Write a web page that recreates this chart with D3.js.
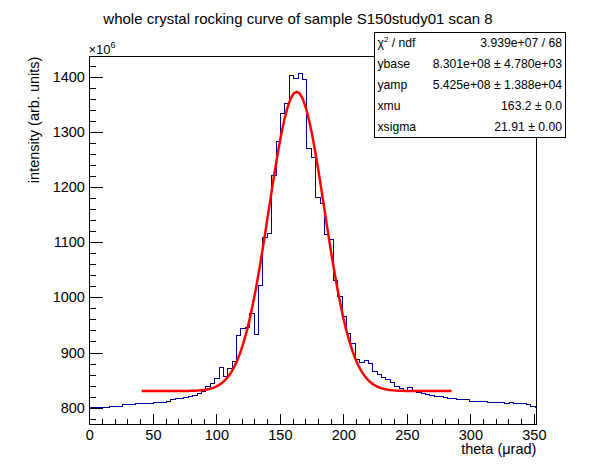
<!DOCTYPE html>
<html>
<head>
<meta charset="utf-8">
<script src="https://cdn.jsdelivr.net/npm/d3@7"></script>
<style>
  html, body { margin: 0; padding: 0; background: #fff; }
  svg { display: block; font-family: "Liberation Sans", Arial, Helvetica, sans-serif; }
</style>
</head>
<body>
<div class="chart"></div>
<script>
"use strict";

// Histogram contents (x10^6), bin k is centred on k * binWidth
const binWidth = 3.46;
const binValues = [
  800, 800, 801, 801, 801, 802, 803, 803, 805, 805,
  805, 807, 807, 807, 808, 809, 809, 810, 812, 814,
  816, 817, 819, 820, 822, 825, 830, 838, 843, 853,
  873, 857, 871, 883, 930, 943, 945, 970, 933, 1022,
  1109, 1116, 1221, 1283, 1334, 1352, 1402, 1397, 1405, 1395,
  1270, 1253, 1181, 1170, 1114, 1105, 1030, 1002, 966, 935,
  917, 888, 882, 886, 880, 866, 861, 855, 851, 845,
  839, 834, 832, 836, 830, 828, 826, 824, 822, 820,
  820, 819, 817, 816, 815, 815, 814, 812, 812, 812,
  811, 810, 810, 810, 809, 808, 810, 808, 808, 807,
  805, 803, 800
];

const xDomain = [0, 352];
const yDomain = [769, 1436.4];
const xTicks = [0, 50, 100, 150, 200, 250, 300, 350];
const yTicks = [800, 900, 1000, 1100, 1200, 1300, 1400];

// Fit result as printed in the stats box (gaussian on a flat base)
const fitBase = 830.1;   // ybase / 1e6
const fitAmp = 542.5;    // yamp / 1e6
const fitMu = 163.2;
const fitSigma = 21.91;
const fitRange = [41.2, 285.2];

const statLabels = ["ndf", "ybase", "yamp", "xmu", "xsigma"];
const statValues = [
  "3.939e+07 / 68",
  "8.301e+08 \u00b1 4.780e+03",
  "5.425e+08 \u00b1 1.388e+04",
  "163.2 \u00b1 0.0",
  "21.91 \u00b1 0.00"
];

const fontFamily = "'Liberation Sans', Arial, Helvetica, sans-serif";
const width = 596;
const height = 472;
const frame = { left: 89.4, right: 536.4, top: 56.6, bottom: 424.8 };
const innerWidth = frame.right - frame.left;
const innerHeight = frame.bottom - frame.top;

const svg = d3.select(".chart")
  .append("svg")
    .attr("width", width)
    .attr("height", height);

svg.append("rect")
  .attr("width", width)
  .attr("height", height)
  .attr("fill", "#fff");

svg.append("defs")
  .append("clipPath")
    .attr("id", "frame-clip")
  .append("rect")
    .attr("width", innerWidth)
    .attr("height", innerHeight);

const innerChart = svg.append("g")
  .attr("transform", `translate(${frame.left}, ${frame.top})`);

const xScale = d3.scaleLinear()
  .domain(xDomain)
  .range([0, innerWidth]);

const yScale = d3.scaleLinear()
  .domain(yDomain)
  .range([innerHeight, 0]);

// Axes, ticks pointing into the frame like ROOT does
const xAxis = d3.axisBottom(xScale)
  .tickValues(xTicks)
  .tickFormat(d3.format("d"))
  .tickSize(-11)
  .tickSizeOuter(0)
  .tickPadding(5);

const xMinor = d3.axisBottom(xScale)
  .tickValues(d3.range(0, 352, 10).filter(v => v % 50 !== 0))
  .tickSize(-5.5)
  .tickSizeOuter(0);

const yAxis = d3.axisLeft(yScale)
  .tickValues(yTicks)
  .tickFormat(d3.format("d"))
  .tickSize(-13.4)
  .tickSizeOuter(0)
  .tickPadding(4.5);

const yMinor = d3.axisLeft(yScale)
  .tickValues(d3.range(780, 1421, 20).filter(v => v % 100 !== 0))
  .tickSize(-6.7)
  .tickSizeOuter(0);

innerChart.append("g")
  .attr("class", "minor")
  .attr("transform", `translate(0, ${innerHeight})`)
  .call(xMinor);

innerChart.append("g")
  .attr("class", "minor")
  .call(yMinor);

innerChart.selectAll(".minor text").remove();

innerChart.append("g")
  .attr("class", "axis-x")
  .attr("transform", `translate(0, ${innerHeight})`)
  .call(xAxis);

innerChart.append("g")
  .attr("class", "axis-y")
  .call(yAxis);

innerChart.selectAll(".domain").remove();
innerChart.selectAll("g.minor, g.axis-x, g.axis-y")
  .attr("font-family", fontFamily)
  .attr("font-size", 14.5);
innerChart.selectAll(".tick line")
  .attr("stroke", "#000")
  .attr("shape-rendering", "crispEdges");
innerChart.selectAll(".tick text")
  .attr("fill", "#000");

// Histogram as a step line through the bin low edges
const edges = binValues.map((v, k) => ({ x: (k - 0.5) * binWidth, y: v }));
edges.push({ x: (binValues.length - 0.5) * binWidth, y: binValues[binValues.length - 1] });

const stepLine = d3.line()
  .x(d => xScale(d.x))
  .y(d => yScale(d.y))
  .curve(d3.curveStepAfter);

const plot = innerChart.append("g")
  .attr("clip-path", "url(#frame-clip)");

plot.append("path")
  .attr("d", stepLine(edges))
  .attr("fill", "none")
  .attr("stroke", "#000099")
  .attr("stroke-width", 1)
  .attr("shape-rendering", "crispEdges");

// Fit function evaluated from the printed parameters
const fitPoints = d3.range(0, 101).map(i => {
  const x = fitRange[0] + (fitRange[1] - fitRange[0]) * i / 100;
  const z = (x - fitMu) / fitSigma;
  return { x, y: fitBase + fitAmp * Math.exp(-0.5 * z * z) };
});

const fitLine = d3.line()
  .x(d => xScale(d.x))
  .y(d => yScale(d.y));

plot.append("path")
  .attr("d", fitLine(fitPoints))
  .attr("fill", "none")
  .attr("stroke", "#ff0000")
  .attr("stroke-width", 2.5)
  .attr("stroke-linejoin", "round");

// Frame
innerChart.append("rect")
  .attr("width", innerWidth)
  .attr("height", innerHeight)
  .attr("fill", "none")
  .attr("stroke", "#000")
  .attr("shape-rendering", "crispEdges");

// Exponent label of the y axis
const expLabel = svg.append("text")
  .attr("x", 88.5)
  .attr("y", 54)
  .attr("fill", "#000")
  .style("font-size", "13px")
  .text("\u00d710");
expLabel.append("tspan")
  .attr("dy", -6)
  .style("font-size", "9px")
  .text("6");

// Axis titles
svg.append("text")
  .attr("x", frame.right)
  .attr("y", 454)
  .attr("text-anchor", "end")
  .style("font-size", "14.5px")
  .text("theta (\u03bcrad)");

svg.append("text")
  .attr("transform", `translate(38.5, ${frame.top}) rotate(-90)`)
  .attr("text-anchor", "end")
  .style("font-size", "14.5px")
  .text("intensity (arb. units)");

// Title
svg.append("text")
  .attr("x", width / 2)
  .attr("y", 24)
  .attr("text-anchor", "middle")
  .style("font-size", "15px")
  .text("whole crystal rocking curve of sample S150study01 scan 8");

// Stats box
const box = { x: 374.5, y: 32, w: 191, h: 105.5 };
const rowHeight = box.h / statLabels.length;

svg.append("rect")
  .attr("x", box.x)
  .attr("y", box.y)
  .attr("width", box.w)
  .attr("height", box.h)
  .attr("fill", "#fff")
  .attr("stroke", "#000")
  .attr("shape-rendering", "crispEdges");

const rows = svg.append("g")
  .style("font-size", "12.2px")
  .selectAll("g")
  .data(statLabels)
  .join("g")
    .attr("transform", (d, i) => `translate(0, ${box.y + (i + 0.5) * rowHeight + 4.3})`);

rows.append("text")
  .attr("x", box.x + 3)
  .each(function(d, i) {
    const t = d3.select(this);
    if (i === 0) {
      t.append("tspan").text("\u03c7");
      t.append("tspan").attr("dy", -5).style("font-size", "8px").text("2");
      t.append("tspan").attr("dy", 5).text(" / " + d);
    } else {
      t.text(d);
    }
  });

rows.append("text")
  .attr("x", box.x + box.w - 3.5)
  .attr("text-anchor", "end")
  .text((d, i) => statValues[i]);
</script>
</body>
</html>
